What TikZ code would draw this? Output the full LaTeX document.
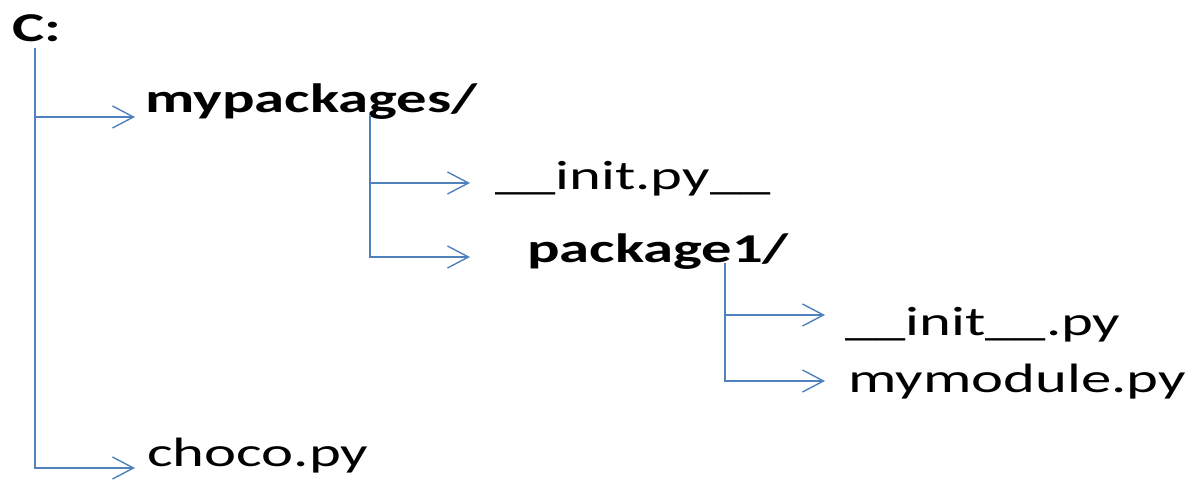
\documentclass[tikz,border=0pt]{standalone}
\usepackage{fontspec}
\usepackage{graphicx}
\setmainfont{Carlito}
\usetikzlibrary{arrows.meta}
\definecolor{linkblue}{RGB}{79,129,189}
\newcommand{\wide}[1]{\scalebox{1.48}[1]{#1}}
\begin{document}
\begin{tikzpicture}[x=1pt,y=-1pt,
  label/.style={inner sep=0pt,anchor=base west,font=\fontsize{41}{49}\selectfont},
  dir/.style={label,font=\fontsize{41}{49}\selectfont\bfseries},
  branch/.style={draw=linkblue,line width=1.4pt},
  arr/.style={branch,-{Straight Barb[length=21pt,width=22pt]}}]
\useasboundingbox (0,0) rectangle (1192,481);
% texts
\node[dir]   (c)  at (12,42)   {\wide{C:}};
\node[dir]   (mp) at (145,113) {\wide{mypackages/}};
\node[label] (ip) at (495,190) {\wide{\_\_init.py\_\_}};
\node[dir]   (p1) at (527,263) {\wide{package1/}};
\node[label] (ii) at (845,335) {\wide{\_\_init\_\_.py}};
\node[label] (mm) at (848,392) {\wide{mymodule.py}};
\node[label] (ch) at (147,466) {\wide{choco.py}};
% branch points and arrow tips
\coordinate (t0) at (35,48);
\coordinate (t1) at (370,115);
\coordinate (t2) at (725,263);
\coordinate (amp) at (135,117);
\coordinate (ach) at (135,468);
\coordinate (aip) at (470,183);
\coordinate (ap1) at (470,257);
\coordinate (aii) at (825,315);
\coordinate (amm) at (825,381);
% connectors
\draw[arr] (t0) |- (amp);
\draw[arr] (t0) |- (ach);
\draw[arr] (t1) |- (aip);
\draw[arr] (t1) |- (ap1);
\draw[arr] (t2) |- (aii);
\draw[arr] (t2) |- (amm);
\end{tikzpicture}
\end{document}
